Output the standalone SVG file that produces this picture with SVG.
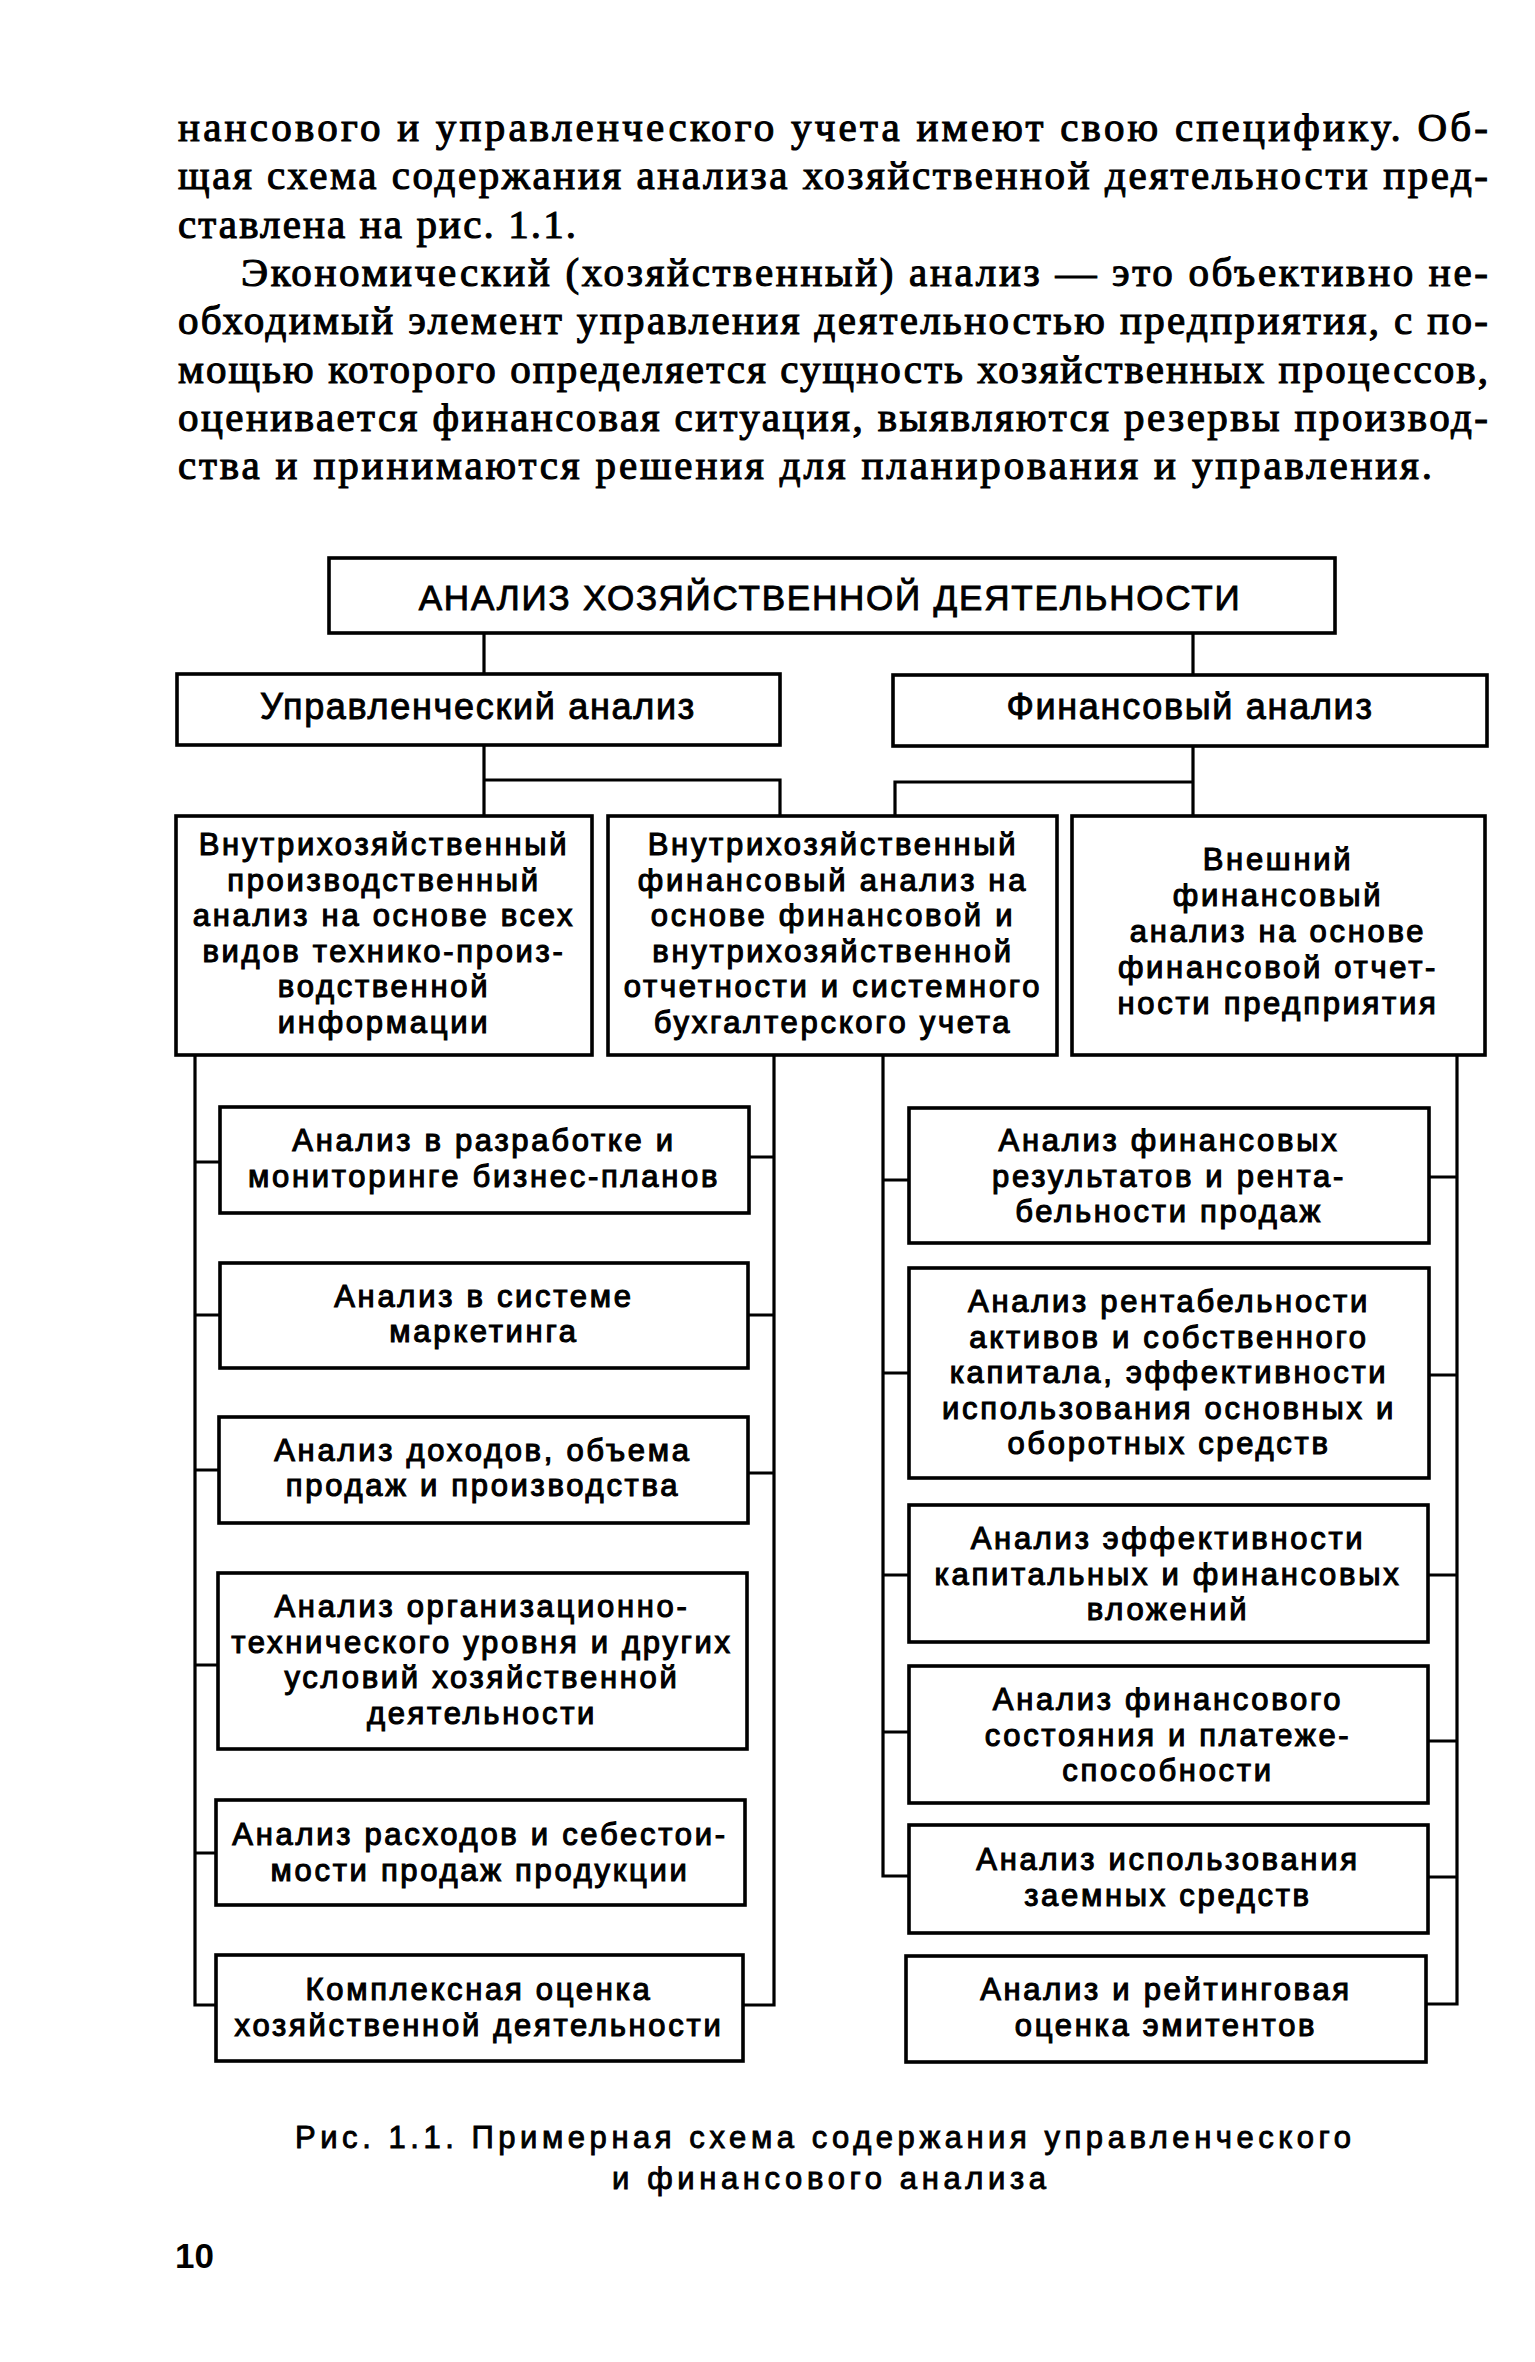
<svg xmlns="http://www.w3.org/2000/svg" width="1535" height="2362" viewBox="0 0 1535 2362">
<style>
.bg{fill:#fff}
.box{fill:#fff;stroke:#000;stroke-width:3.6}
.ln{fill:none;stroke:#000;stroke-width:3.2;stroke-linecap:square}
.p{font-family:"Liberation Serif","Times New Roman",serif;font-size:41px;fill:#000;stroke:#000;stroke-width:1.1}
.t{font-family:"Liberation Sans",Arial,sans-serif;font-size:31px;letter-spacing:2.7px;text-anchor:middle;fill:#000;stroke:#000;stroke-width:1.1}
.t1{font-family:"Liberation Sans",Arial,sans-serif;font-size:35px;letter-spacing:1.8px;text-anchor:middle;fill:#000;stroke:#000;stroke-width:0.9}
.t2{font-family:"Liberation Sans",Arial,sans-serif;font-size:36px;letter-spacing:1.7px;text-anchor:middle;fill:#000;stroke:#000;stroke-width:0.9}
.cap{font-family:"Liberation Sans",Arial,sans-serif;font-size:31px;text-anchor:middle;fill:#000;stroke:#000;stroke-width:0.9}
.pg{font-family:"Liberation Sans",Arial,sans-serif;font-size:35px;font-weight:bold;fill:#000}
</style>
<rect class="bg" x="0" y="0" width="1535" height="2362"/>

<g id="paragraph">
<text class="p" x="178" y="141" textLength="1310" lengthAdjust="spacing">нансового и управленческого учета имеют свою специфику. Об-</text>
<text class="p" x="178" y="189" textLength="1310" lengthAdjust="spacing">щая схема содержания анализа хозяйственной деятельности пред-</text>
<text class="p" x="178" y="238" textLength="398" lengthAdjust="spacing">ставлена на рис. 1.1.</text>
<text class="p" x="241" y="286" textLength="1247" lengthAdjust="spacing">Экономический (хозяйственный) анализ — это объективно не-</text>
<text class="p" x="178" y="334" textLength="1310" lengthAdjust="spacing">обходимый элемент управления деятельностью предприятия, с по-</text>
<text class="p" x="178" y="383" textLength="1310" lengthAdjust="spacing">мощью которого определяется сущность хозяйственных процессов,</text>
<text class="p" x="178" y="431" textLength="1310" lengthAdjust="spacing">оценивается финансовая ситуация, выявляются резервы производ-</text>
<text class="p" x="178" y="479" textLength="1254" lengthAdjust="spacing">ства и принимаются решения для планирования и управления.</text>
</g>

<g id="connectors">
<path class="ln" d="M484 633V674M1193 633V675"/>
<path class="ln" d="M484 745V816M484 780H780V816"/>
<path class="ln" d="M1193 746V816M1193 782H895V816"/>
<path class="ln" d="M195 1055V2005H216M195 1162H219M195 1315H220M195 1470H219M195 1665H218M195 1853H216"/>
<path class="ln" d="M774 1055V2005H743M774 1157H749M774 1315H748M774 1473H748"/>
<path class="ln" d="M883 1055V1876H909M883 1180H909M883 1373H909M883 1575H909M883 1732H909"/>
<path class="ln" d="M1457 1055V2004H1426M1457 1177H1429M1457 1375H1429M1457 1575H1429M1457 1741H1429M1457 1877H1429"/>
</g>

<g id="n-root">
<rect class="box" x="329" y="558" width="1006" height="75"/>
<text class="t1" x="830" y="610">АНАЛИЗ ХОЗЯЙСТВЕННОЙ ДЕЯТЕЛЬНОСТИ</text>
</g>

<g id="n-mgmt">
<rect class="box" x="177" y="674" width="603" height="71"/>
<text class="t2" x="478" y="719">Управленческий анализ</text>
</g>

<g id="n-fin">
<rect class="box" x="893" y="675" width="594" height="71"/>
<text class="t2" x="1190" y="719">Финансовый анализ</text>
</g>

<g id="n-prod">
<rect class="box" x="176" y="816" width="416" height="239"/>
<text class="t" x="384" y="855">Внутрихозяйственный</text>
<text class="t" x="384" y="890.5">производственный</text>
<text class="t" x="384" y="926">анализ на основе всех</text>
<text class="t" x="384" y="961.5">видов технико-произ-</text>
<text class="t" x="384" y="997">водственной</text>
<text class="t" x="384" y="1032.5">информации</text>
</g>

<g id="n-internal">
<rect class="box" x="608" y="816" width="449" height="239"/>
<text class="t" x="833" y="855">Внутрихозяйственный</text>
<text class="t" x="833" y="890.5">финансовый анализ на</text>
<text class="t" x="833" y="926">основе финансовой и</text>
<text class="t" x="833" y="961.5">внутрихозяйственной</text>
<text class="t" x="833" y="997">отчетности и системного</text>
<text class="t" x="833" y="1032.5">бухгалтерского учета</text>
</g>

<g id="n-external">
<rect class="box" x="1072" y="816" width="413" height="239"/>
<text class="t" x="1278" y="870">Внешний</text>
<text class="t" x="1278" y="906">финансовый</text>
<text class="t" x="1278" y="942">анализ на основе</text>
<text class="t" x="1278" y="978">финансовой отчет-</text>
<text class="t" x="1278" y="1014">ности предприятия</text>
</g>

<g id="n-l1">
<rect class="box" x="220" y="1107" width="529" height="106"/>
<text class="t" x="484" y="1151">Анализ в разработке и</text>
<text class="t" x="484" y="1187">мониторинге бизнес-планов</text>
</g>
<g id="n-l2">
<rect class="box" x="220" y="1263" width="528" height="105"/>
<text class="t" x="484" y="1307">Анализ в системе</text>
<text class="t" x="484" y="1342">маркетинга</text>
</g>
<g id="n-l3">
<rect class="box" x="219" y="1417" width="529" height="106"/>
<text class="t" x="483" y="1461">Анализ доходов, объема</text>
<text class="t" x="483" y="1496">продаж и производства</text>
</g>
<g id="n-l4">
<rect class="box" x="218" y="1573" width="529" height="176"/>
<text class="t" x="482" y="1617">Анализ организационно-</text>
<text class="t" x="482" y="1652.5">технического уровня и других</text>
<text class="t" x="482" y="1688">условий хозяйственной</text>
<text class="t" x="482" y="1723.5">деятельности</text>
</g>
<g id="n-l5">
<rect class="box" x="216" y="1800" width="529" height="105"/>
<text class="t" x="480" y="1845">Анализ расходов и себестои-</text>
<text class="t" x="480" y="1881">мости продаж продукции</text>
</g>
<g id="n-l6">
<rect class="box" x="216" y="1955" width="527" height="106"/>
<text class="t" x="479" y="2000">Комплексная оценка</text>
<text class="t" x="479" y="2036">хозяйственной деятельности</text>
</g>

<g id="n-r1">
<rect class="box" x="909" y="1108" width="520" height="135"/>
<text class="t" x="1169" y="1151">Анализ финансовых</text>
<text class="t" x="1169" y="1187">результатов и рента-</text>
<text class="t" x="1169" y="1222">бельности продаж</text>
</g>
<g id="n-r2">
<rect class="box" x="909" y="1268" width="520" height="210"/>
<text class="t" x="1169" y="1312">Анализ рентабельности</text>
<text class="t" x="1169" y="1347.5">активов и собственного</text>
<text class="t" x="1169" y="1383">капитала, эффективности</text>
<text class="t" x="1169" y="1418.5">использования основных и</text>
<text class="t" x="1169" y="1454">оборотных средств</text>
</g>
<g id="n-r3">
<rect class="box" x="909" y="1505" width="519" height="137"/>
<text class="t" x="1168" y="1549">Анализ эффективности</text>
<text class="t" x="1168" y="1584.5">капитальных и финансовых</text>
<text class="t" x="1168" y="1620">вложений</text>
</g>
<g id="n-r4">
<rect class="box" x="909" y="1666" width="519" height="137"/>
<text class="t" x="1168" y="1710">Анализ финансового</text>
<text class="t" x="1168" y="1745.5">состояния и платеже-</text>
<text class="t" x="1168" y="1781">способности</text>
</g>
<g id="n-r5">
<rect class="box" x="909" y="1825" width="519" height="108"/>
<text class="t" x="1168" y="1870">Анализ использования</text>
<text class="t" x="1168" y="1906">заемных средств</text>
</g>
<g id="n-r6">
<rect class="box" x="906" y="1956" width="520" height="106"/>
<text class="t" x="1166" y="2000">Анализ и рейтинговая</text>
<text class="t" x="1166" y="2036">оценка эмитентов</text>
</g>

<g id="caption">
<text class="cap" x="823" y="2148" textLength="1056" lengthAdjust="spacing">Рис. 1.1. Примерная схема содержания управленческого</text>
<text class="cap" x="829" y="2189" textLength="434" lengthAdjust="spacing">и финансового анализа</text>
</g>
<text class="pg" x="175" y="2268">10</text>
</svg>
